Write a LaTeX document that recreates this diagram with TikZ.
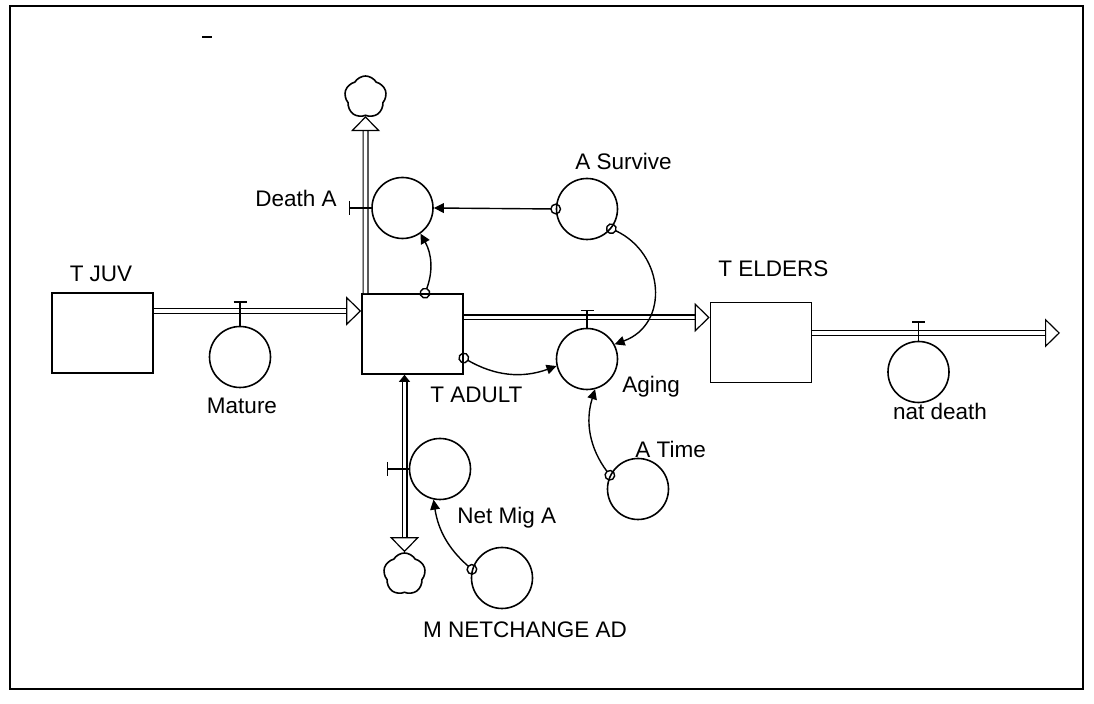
\documentclass[tikz,border=0pt]{standalone}
\usepackage{fontspec}
\setmainfont{Liberation Sans}
\usetikzlibrary{arrows.meta,positioning,shapes.symbols}
\tikzset{
  stock/.style={
    draw,
    line width=0.8pt,
    minimum width=50.5pt,
    minimum height=40pt,
    inner sep=0pt
  },
  conv/.style={
    circle,
    draw,
    line width=0.8pt,
    minimum size=30.5pt,
    inner sep=0pt
  },
  sink/.style={
    cloud,
    cloud puffs=5,
    cloud puff arc=120,
    aspect=1,
    draw,
    line width=0.8pt,
    minimum size=21pt,
    inner sep=0pt
  },
  lbl/.style={
    font=\fontsize{11.25}{13}\selectfont,
    inner sep=0pt
  },
  pipe/.style={
    draw,
    line width=0.6pt,
    double=white,
    double distance=1.8pt,
    -{Triangle[open,length=7.5pt,width=14.5pt,line width=0.6pt]}
  },
  valve/.style={line width=0.7pt},
  link/.style={
    {Circle[open,length=5.5pt,line width=0.7pt]}-{Triangle[length=5pt,width=4.8pt]},
    line width=0.7pt,
    shorten <=-2.75pt
  }
}

\begin{document}
\begin{tikzpicture}[x=0.5pt,y=-0.5pt]
\useasboundingbox (0,0) rectangle (1094,704);
\draw[line width=1.4pt] (10,6) rectangle (1083,689);
\draw[line width=0.8pt] (202,37) -- (212,37);

% stocks
\node[stock] (juv) at (102.5,333) {};
\node[stock] (adult) at (412.5,334) {};
\node[stock] (elders) at (761,342.5) {};

% converters
\node[conv] (mature) at (240,357) {};
\node[conv] (deatha) at (402.5,208) {};
\node[conv] (survive) at (587,209) {};
\node[conv] (aging) at (587,359) {};
\node[conv] (atime) at (638,489) {};
\node[conv] (netmig) at (440,469) {};
\node[conv] (mnet) at (502,578) {};
\node[conv] (natdeath) at (918.5,372) {};

% sources and sinks
\node[sink] (cloudup) at (365.5,97) {};
\node[sink] (clouddown) at (404.5,574) {};
\coordinate (drain) at (1060,333);

% labels
\node[lbl, anchor=base] (juvlbl) at (101,282) {T JUV};
\node[lbl, anchor=base west] (adultlbl) at (430,403) {T ADULT};
\node[lbl, anchor=base west] (elderslbl) at (718,277) {T ELDERS};
\node[lbl, anchor=base] (maturelbl) at (242,414) {Mature};
\node[lbl, anchor=base east] (deathalbl) at (337,207) {Death A};
\node[lbl, anchor=base west] (survivelbl) at (575,170) {A Survive};
\node[lbl, anchor=base west] (aginglbl) at (622,393) {Aging};
\node[lbl, anchor=base west] (atimelbl) at (635,458) {A Time};
\node[lbl, anchor=base west] (netmiglbl) at (457,524) {Net Mig A};
\node[lbl, anchor=base] (natdeathlbl) at (940,420) {nat death};
\node[lbl, anchor=base] (mnetlbl) at (525,638) {M NETCHANGE AD};

% flows
\draw[pipe] ([yshift=11pt]juv.east) -- ([yshift=11pt]juv.east -| adult.west);
\draw[pipe] ([yshift=8.25pt]adult.east) -- ([yshift=8.25pt]adult.east -| elders.west);
\draw[pipe] ([yshift=4.75pt]elders.east) -- (drain);
\draw[pipe] (adult.north -| cloudup) -- (cloudup.south);
\draw[pipe, {Triangle[length=3.5pt,width=5.5pt,line width=0.6pt]}-{Triangle[open,length=7.5pt,width=14.5pt,line width=0.6pt]}]
  (adult.south -| clouddown) -- (clouddown.north);

% valves
\draw[valve] (mature.north) -- ++(0,-23.5) ++(-6.5,0) -- ++(13,0);
\draw[valve] (deatha.west) -- ++(-22,0) ++(0,-7) -- ++(0,14);
\draw[valve] (aging.north) -- ++(0,-17) ++(-6.5,0) -- ++(13,0);
\draw[valve] (natdeath.north) -- ++(0,-18.5) ++(-6.5,0) -- ++(13,0);
\draw[valve] (netmig.west) -- ++(-21.5,0) ++(0,-7) -- ++(0,14);

% connectors
\draw[link] (survive.west) -- (deatha.east);
\draw[link] ([xshift=6.25pt]adult.north) to[bend right=25] (deatha.-55);
\draw[link] (survive.-39) to[out=-25,in=20,looseness=1.3] (aging.28);
\draw[link] ([yshift=-12pt]adult.east) to[bend right=25] (aging.193);
\draw[link] (atime.154) to[bend left=27] (aging.-75);
\draw[link] (mnet.164) to[bend left=20] (netmig.-102);
\end{tikzpicture}
\end{document}
